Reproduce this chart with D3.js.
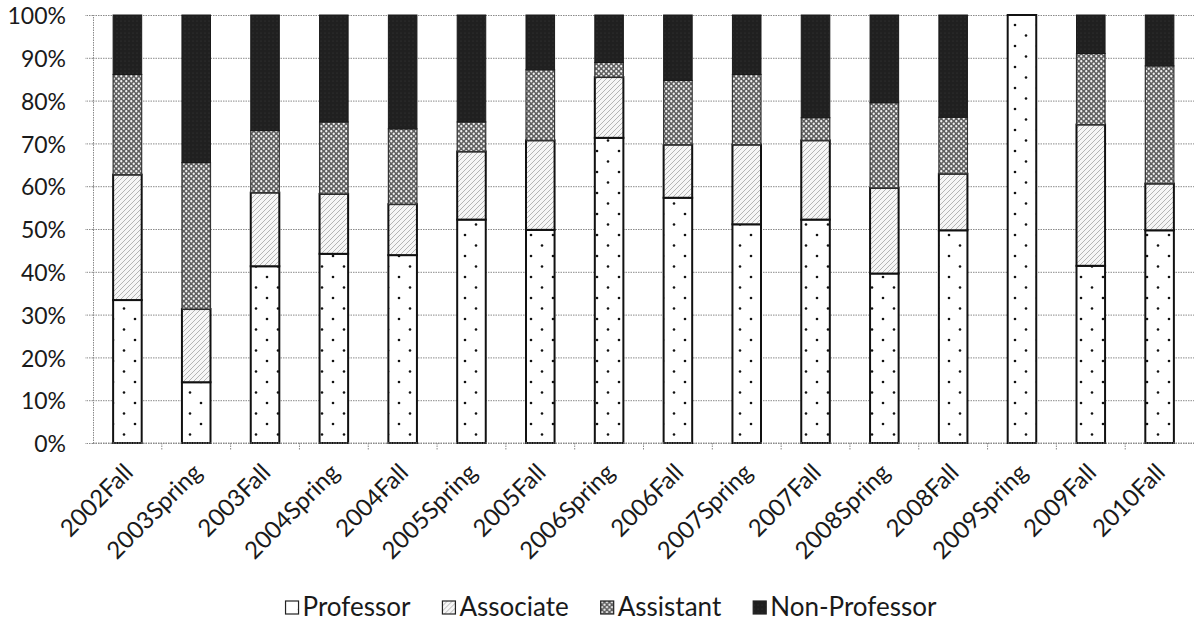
<!DOCTYPE html>
<html><head><meta charset="utf-8">
<script src="https://cdn.jsdelivr.net/npm/d3@7"></script>
<style>
html,body{margin:0;padding:0;background:#fff;}
svg{display:block;font-family:Lato,"Open Sans",sans-serif;}
</style></head><body>
<svg id="chart" width="1194" height="634"></svg>
<script>
// ---- data (percent of each semester) ----
const categories = ["2002Fall","2003Spring","2003Fall","2004Spring","2004Fall","2005Spring","2005Fall","2006Spring","2006Fall","2007Spring","2007Fall","2008Spring","2008Fall","2009Spring","2009Fall","2010Fall"];
const professor    = [33.4, 14.2, 41.3, 44.2, 43.9, 52.2, 49.8, 71.3, 57.3, 51.1, 52.2, 39.6, 49.7, 100, 41.4, 49.7];
const associate    = [29.3, 17.1, 17.2, 14.0, 11.9, 15.9, 20.9, 14.2, 12.4, 18.6, 18.5, 20.0, 13.2, 0, 33.0, 10.9];
const assistant    = [23.4, 34.2, 14.5, 16.8, 17.6, 6.9, 16.5, 3.4, 15.0, 16.4, 5.3, 19.9, 13.2, 0, 16.6, 27.5];
const nonProfessor = [13.9, 34.5, 27.0, 25.0, 26.6, 25.0, 12.8, 11.1, 15.3, 13.9, 24.0, 20.5, 23.9, 0, 9.0, 11.9];
const seriesNames = ["Professor","Associate","Assistant","Non-Professor"];
const yTickValues = [0,10,20,30,40,50,60,70,80,90,100];

(function(){
const rows = categories.map((c,i)=>({cat:c,"Professor":professor[i],"Associate":associate[i],"Assistant":assistant[i],"Non-Professor":nonProfessor[i]}));

const svg = d3.select("#chart");
const pL = 93, pR = 1194, pT = 15, pB = 443;
const defs = svg.append("defs");

// patterns
const pProf = defs.append("pattern").attr("id","pat0").attr("patternUnits","userSpaceOnUse").attr("width",22).attr("height",21);
pProf.append("rect").attr("width",22).attr("height",21).attr("fill","#fff");
pProf.append("circle").attr("cx",3).attr("cy",4).attr("r",1.3).attr("fill","#111");
pProf.append("circle").attr("cx",14).attr("cy",14.5).attr("r",1.3).attr("fill","#111");

const pAssoc = defs.append("pattern").attr("id","pat1").attr("patternUnits","userSpaceOnUse").attr("width",5).attr("height",5);
pAssoc.append("rect").attr("width",5).attr("height",5).attr("fill","#f6f6f6");
pAssoc.append("path").attr("d","M0,5L5,0M-1,1L1,-1M4,6L6,4").attr("stroke","#a4a4a4").attr("stroke-width",0.8);

const pAsst = defs.append("pattern").attr("id","pat2").attr("patternUnits","userSpaceOnUse").attr("width",5).attr("height",5);
pAsst.append("rect").attr("width",5).attr("height",5).attr("fill","#5e5e5e");
pAsst.append("circle").attr("cx",1.25).attr("cy",1.25).attr("r",1.15).attr("fill","#f2f2f2");
pAsst.append("circle").attr("cx",3.75).attr("cy",3.75).attr("r",1.15).attr("fill","#f2f2f2");

const pNon = defs.append("pattern").attr("id","pat3").attr("patternUnits","userSpaceOnUse").attr("width",4).attr("height",4);
pNon.append("rect").attr("width",4).attr("height",4).attr("fill","#202020");
pNon.append("circle").attr("cx",1).attr("cy",1).attr("r",0.6).attr("fill","#3a3a3a");

const fills = {"Professor":"url(#pat0)","Associate":"url(#pat1)","Assistant":"url(#pat2)","Non-Professor":"url(#pat3)"};
const strokes = {"Professor":"#111","Associate":"#111","Assistant":"#333","Non-Professor":"#1a1a1a"};
const strokeW = {"Professor":2,"Associate":2,"Assistant":1.2,"Non-Professor":1};

// scales
const x = d3.scaleBand().domain(categories).range([pL,pR]).paddingInner(0.585).paddingOuter(0.2925);
const xStep = d3.scaleBand().domain(categories).range([pL,pR]).padding(0);
const y = d3.scaleLinear().domain([0,100]).range([pB,pT]);

const gridColor = "#8a8a8a";
// grid lines
const grid = svg.append("g").attr("transform",`translate(${pL},0)`)
  .call(d3.axisLeft(y).tickValues(yTickValues).tickSizeInner(-(pR-pL)).tickSizeOuter(0).tickFormat(""));
grid.select(".domain").remove();
grid.selectAll("line").attr("stroke",gridColor).attr("stroke-width",1).attr("stroke-dasharray","1.5,1");

// y axis with labels
const yAx = svg.append("g").attr("transform",`translate(${pL},0)`)
  .call(d3.axisLeft(y).tickValues(yTickValues).tickSizeInner(8).tickSizeOuter(0).tickPadding(19).tickFormat(d=>d+"%"));
yAx.select(".domain").attr("stroke",gridColor).attr("stroke-dasharray","1.5,1");
yAx.selectAll("line").attr("stroke",gridColor).attr("stroke-dasharray","1.5,1");
yAx.selectAll("text").attr("font-size",23).attr("fill","#1a1a1a").attr("font-family","Lato").attr("dy","0.38em");

// x axis boundary ticks
svg.append("g").selectAll("line").data(categories.slice(1)).join("line")
  .attr("x1",d=>xStep(d)).attr("x2",d=>xStep(d)).attr("y1",pB).attr("y2",pB+7)
  .attr("stroke",gridColor).attr("stroke-dasharray","1.5,1");

// bars
const stack = d3.stack().keys(seriesNames)(rows);
svg.append("g").selectAll("g").data(stack).join("g")
  .each(function(s){
    d3.select(this).selectAll("rect").data(s.filter(d=>d[1]-d[0]>0)).join("rect")
      .attr("x",d=>x(d.data.cat)).attr("width",x.bandwidth())
      .attr("y",d=>y(d[1])).attr("height",d=>y(d[0])-y(d[1]))
      .attr("fill",fills[s.key]).attr("stroke",strokes[s.key]).attr("stroke-width",strokeW[s.key]);
  });

// x axis labels
const xAx = svg.append("g").attr("transform",`translate(0,${pB})`)
  .call(d3.axisBottom(x).tickSize(0).tickPadding(0));
xAx.select(".domain").attr("stroke",gridColor).attr("stroke-dasharray","1.5,1").attr("d",`M${pL},0H${pR}`);
xAx.selectAll("text").attr("font-size",24).attr("fill","#1a1a1a").attr("font-family","Lato")
  .attr("text-anchor","end").attr("x",0).attr("y",0).attr("dy",null)
  .attr("transform","translate(7,31) rotate(-45)");

// legend
const legend = svg.append("g");
const items = legend.selectAll("g").data(seriesNames).join("g");
items.append("rect").attr("width",13).attr("height",13).attr("y",-15)
  .attr("fill",d=>fills[d]).attr("stroke","#222").attr("stroke-width",1.2);
items.append("text").attr("x",17).attr("font-size",26).attr("fill","#1a1a1a").attr("font-family","Lato").text(d=>d);
let cx = 0;
const pos = [];
items.each(function(){ const w = d3.select(this).select("text").node().getComputedTextLength(); pos.push(cx); cx += 17 + w + 32; });
const total = cx - 32;
items.attr("transform",(d,i)=>`translate(${pos[i]},0)`);
legend.attr("transform",`translate(${611 - total/2},616)`);
})();
</script>
</body></html>
